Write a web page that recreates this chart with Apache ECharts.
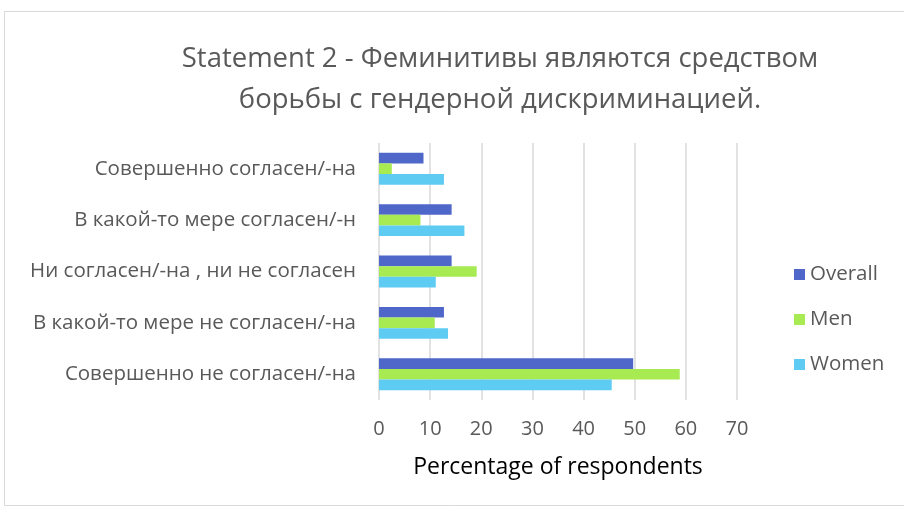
<!DOCTYPE html>
<html><head><meta charset="utf-8">
<script src="https://cdn.jsdelivr.net/npm/echarts@6/dist/echarts.min.js"></script>
<style>html,body{margin:0;padding:0;background:#fff}#c{width:904px;height:511px}</style>
</head><body><div id="c"></div>
<script>
const categories = ['Совершенно не согласен/-на','В какой-то мере не согласен/-на','Ни согласен/-на , ни не согласен','В какой-то мере согласен/-н','Совершенно согласен/-на'];
const overall = [49.7, 12.7, 14.2, 14.2, 8.7];
const men = [58.8, 10.9, 19.1, 8.1, 2.5];
const women = [45.5, 13.5, 11.1, 16.7, 12.7];
const xTicks = [0, 10, 20, 30, 40, 50, 60, 70];
const FONT = '"Open Sans", sans-serif';
const chart = echarts.init(document.getElementById('c'));
chart.setOption({
  animation: false,
  graphic: [{type:'rect', shape:{x:4.5,y:11.5,width:905,height:494}, style:{fill:'none', stroke:'#d9d9d9', lineWidth:1}}],
  title: {
    text: 'Statement 2 - Феминитивы являются средством\nборьбы с гендерной дискриминацией.',
    left: 495, top: 34, textAlign: 'center',
    textStyle: {fontFamily: FONT, fontWeight: 'normal', fontSize: 27.5, color: '#595959', lineHeight: 41}
  },
  legend: {
    data: ['Overall','Men','Women'], orient: 'vertical', left: 789, top: 259,
    itemWidth: 11, itemHeight: 11, itemGap: 24, icon: 'rect',
    textStyle: {fontFamily: FONT, fontSize: 20.5, color: '#595959'}
  },
  grid: {left: 379, right: 167, top: 143, bottom: 111},
  xAxis: {
    type: 'value', min: xTicks[0], max: xTicks[xTicks.length-1], interval: 10,
    name: 'Percentage of respondents', nameLocation: 'middle', nameGap: 56,
    nameTextStyle: {fontFamily: FONT, fontSize: 23, color: '#000'},
    axisLabel: {fontFamily: FONT, fontSize: 20, color: '#595959', margin: 19},
    axisLine: {show: false}, axisTick: {show: false},
    splitLine: {lineStyle: {color: '#d9d9d9', width: 1.5}}
  },
  yAxis: {
    type: 'category', data: categories,
    axisLabel: {fontFamily: FONT, fontSize: 20.5, color: '#595959', margin: 23},
    axisLine: {show: false}, axisTick: {show: false}
  },
  series: [
    {name: 'Overall', type: 'bar', data: overall, itemStyle: {color: '#4e67c8'}, barCategoryGap: '38%', barGap: '0%'},
    {name: 'Men', type: 'bar', data: men, itemStyle: {color: '#a7ea52'}, barGap: '0%'},
    {name: 'Women', type: 'bar', data: women, itemStyle: {color: '#5ecbf3'}, barGap: '0%'}
  ]
});
</script></body></html>
